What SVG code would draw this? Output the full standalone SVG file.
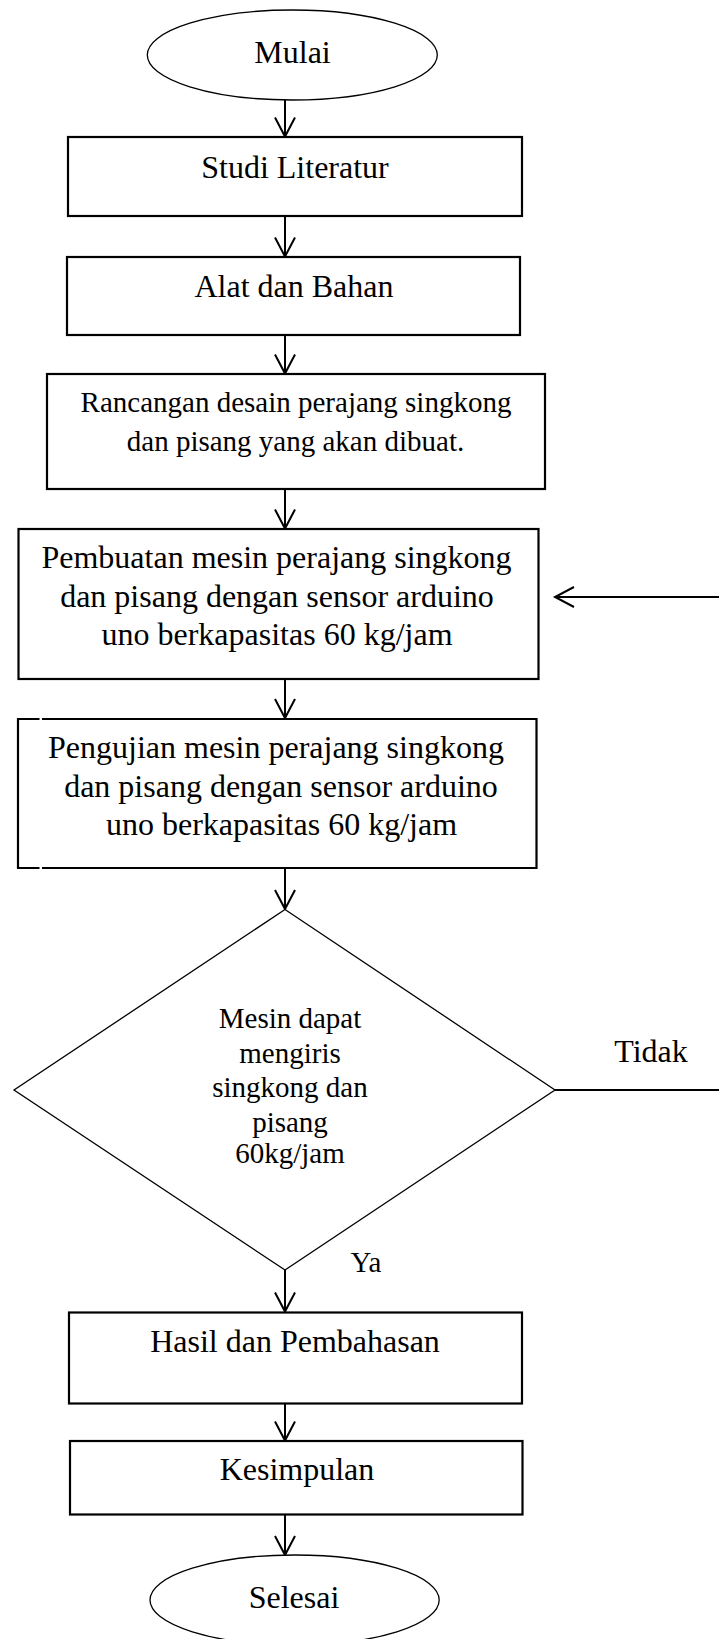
<svg xmlns="http://www.w3.org/2000/svg" width="719" height="1639" viewBox="0 0 719 1639">
<defs>
<style>
text{font-family:"Liberation Serif","Times New Roman",serif;fill:#000;text-anchor:middle}
.t32{font-size:32px}
.t29{font-size:29px}
.box{fill:#fff;stroke:#000;stroke-width:2.2}
.thin{fill:#fff;stroke:#000;stroke-width:1.3}
.conn{fill:none;stroke:#000;stroke-width:2}
</style>
<marker id="ah" markerUnits="userSpaceOnUse" markerWidth="40" markerHeight="40" refX="0" refY="0" orient="auto" overflow="visible">
<path d="M-19,-10 L0,0 L-19,10" fill="none" stroke="#000" stroke-width="2"/>
</marker>
</defs>
<rect width="719" height="1639" fill="#fff"/>
<g id="connectors">
<line class="conn" x1="285" y1="100" x2="285" y2="136.5" marker-end="url(#ah)"/>
<line class="conn" x1="285" y1="216" x2="285" y2="256.5" marker-end="url(#ah)"/>
<line class="conn" x1="285" y1="335" x2="285" y2="373.5" marker-end="url(#ah)"/>
<line class="conn" x1="285" y1="489" x2="285" y2="528.5" marker-end="url(#ah)"/>
<line class="conn" x1="285" y1="679" x2="285" y2="718" marker-end="url(#ah)"/>
<line class="conn" x1="285" y1="868" x2="285" y2="909" marker-end="url(#ah)"/>
<line class="conn" x1="285" y1="1270" x2="285" y2="1311.5" marker-end="url(#ah)"/>
<line class="conn" x1="285" y1="1403" x2="285" y2="1440.5" marker-end="url(#ah)"/>
<line class="conn" x1="285" y1="1514" x2="285" y2="1555" marker-end="url(#ah)"/>
<line class="conn" x1="555" y1="1090" x2="719" y2="1090"/>
<line class="conn" x1="719" y1="597" x2="555" y2="597" marker-end="url(#ah)"/>
<text class="t32" x="651" y="1062">Tidak</text>
<text class="t29" x="366" y="1272">Ya</text>
</g>
<g id="mulai">
<ellipse class="thin" cx="292.3" cy="55" rx="145" ry="45"/>
<text class="t32" x="292.5" y="63">Mulai</text>
</g>
<g id="studi">
<rect class="box" x="68" y="137" width="454" height="79"/>
<text class="t32" x="295" y="178">Studi Literatur</text>
</g>
<g id="alat">
<rect class="box" x="67" y="257" width="453" height="78"/>
<text class="t32" x="294" y="297">Alat dan Bahan</text>
</g>
<g id="rancangan">
<rect class="box" x="47" y="374" width="498" height="115"/>
<text class="t29" x="296" y="412">Rancangan desain perajang singkong</text>
<text class="t29" x="295.5" y="451">dan pisang yang akan dibuat.</text>
</g>
<g id="pembuatan">
<rect class="box" x="18.5" y="529" width="520" height="150"/>
<text class="t32" x="276.5" y="568">Pembuatan mesin perajang singkong</text>
<text class="t32" x="277" y="607">dan pisang dengan sensor arduino</text>
<text class="t32" x="277" y="645">uno berkapasitas 60 kg/jam</text>
</g>
<g id="pengujian">
<rect x="18" y="719" width="518.5" height="149" fill="#fff" stroke="none"/>
<path d="M39.5,719 H18 V868 H39.5 M42,868 H536.5 V719 H42" fill="none" stroke="#000" stroke-width="2.2"/>
<text class="t32" x="276" y="758">Pengujian mesin perajang singkong</text>
<text class="t32" x="281" y="797">dan pisang dengan sensor arduino</text>
<text class="t32" x="281.5" y="835">uno berkapasitas 60 kg/jam</text>
</g>
<g id="keputusan">
<polygon class="thin" points="285,909.5 555,1090 285,1270 14,1090"/>
<text class="t29" x="290" y="1028">Mesin dapat</text>
<text class="t29" x="290" y="1062.5">mengiris</text>
<text class="t29" x="290" y="1096.5">singkong dan</text>
<text class="t29" x="290" y="1131.5">pisang</text>
<text class="t29" x="290" y="1163">60kg/jam</text>
</g>
<g id="hasil">
<rect class="box" x="69" y="1312.5" width="453" height="91"/>
<text class="t32" x="295" y="1352">Hasil dan Pembahasan</text>
</g>
<g id="kesimpulan">
<rect class="box" x="70" y="1441" width="452.5" height="73.5"/>
<text class="t32" x="297" y="1480">Kesimpulan</text>
</g>
<g id="selesai">
<ellipse class="thin" cx="294.6" cy="1600" rx="144.6" ry="45"/>
<text class="t32" x="294" y="1608">Selesai</text>
</g>
</svg>
